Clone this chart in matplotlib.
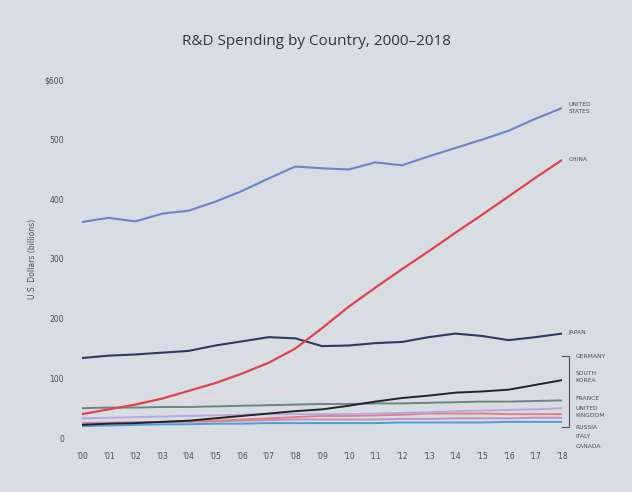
import numpy as np
import matplotlib
matplotlib.use('Agg')
import matplotlib.pyplot as plt

years = list(range(2000, 2019))
xlabels = ["'%02d" % (y % 100) for y in years]

# U.S. dollars, billions
usa = [362, 369, 363, 376, 381, 396, 414, 435, 455, 452, 450, 462, 457, 472, 486, 500, 515, 535, 553]
china = [40, 48, 56, 66, 79, 92, 108, 126, 150, 184, 220, 252, 283, 313, 344, 374, 405, 436, 466]
japan = [134, 138, 140, 143, 146, 155, 162, 169, 167, 154, 155, 159, 161, 169, 175, 171, 164, 169, 175]
germany = [58, 60, 62, 63, 65, 66, 70, 75, 80, 82, 84, 92, 96, 100, 105, 109, 115, 127, 135]
korea = [22, 24, 25, 27, 29, 33, 37, 41, 45, 48, 54, 61, 67, 71, 76, 78, 81, 89, 97]
france = [50, 51, 51, 52, 52, 53, 54, 55, 56, 57, 57, 58, 58, 59, 60, 61, 61, 62, 63]
uk = [33, 34, 35, 36, 37, 38, 39, 40, 40, 40, 40, 41, 42, 43, 45, 46, 47, 48, 50]
russia = [24, 25, 26, 27, 28, 29, 31, 33, 35, 37, 37, 38, 39, 41, 41, 41, 40, 40, 40]
italy = [25, 26, 26, 27, 27, 28, 29, 30, 31, 31, 31, 31, 32, 32, 33, 33, 33, 34, 34]
canada = [20, 21, 22, 23, 23, 24, 24, 25, 25, 25, 25, 25, 26, 26, 26, 26, 27, 27, 27]

bg = '#d7dde3'
fig = plt.figure(figsize=(6.32, 4.92), dpi=100, facecolor=bg)
ax = fig.add_axes([82/632, (492-438)/492, 480/632, 358/492], facecolor=bg)

x = np.arange(len(years))
series = [
    (germany, '#e4dcdc', 1.6),
    (canada, '#4a9fd6', 1.4),
    (italy, '#c48fbf', 1.4),
    (russia, '#e57f85', 1.4),
    (uk, '#b7a9e2', 1.4),
    (france, '#6d877f', 1.4),
    (korea, '#222326', 1.4),
    (japan, '#2d3a5e', 1.5),
    (china, '#e0434d', 1.6),
    (usa, '#6f84c8', 1.5),
]
for vals, col, lw in series:
    ax.plot(x, vals, color=col, lw=lw, solid_capstyle='round')

ax.set_xlim(0, 18)
ax.set_ylim(0, 600)
for s in ax.spines.values():
    s.set_visible(False)
ax.set_yticks([0, 100, 200, 300, 400, 500, 600])
ax.set_yticklabels(['0', '100', '200', '300', '400', '500', '$600'])
ax.set_xticks(x)
ax.set_xticklabels(xlabels)
ax.tick_params(length=0, labelsize=5.5, labelcolor='#4a4f57')
ax.tick_params(axis='y', pad=13)
ax.tick_params(axis='x', pad=10)
ax.set_ylabel('U.S. Dollars (billions)', fontsize=5.5, color='#4a4f57', labelpad=5)

fig.text(0.5, 0.915, 'R&D Spending by Country, 2000\u20132018', ha='center', va='center',
         fontsize=11, color='#33373e', family='Open Sans', fontweight='medium')

lab = dict(fontsize=4.3, color='#4a4f57', va='center', ha='left', clip_on=False,
           linespacing=1.6)
ax.text(18.25, 553, 'UNITED\nSTATES', **lab)
ax.text(18.25, 466, 'CHINA', **lab)
ax.text(18.25, 176, 'JAPAN', **lab)

# bracket for the smaller countries
ax.plot([18.0, 18.25, 18.25, 18.0], [138, 138, 18, 18], color='#4a4f57', lw=0.8, clip_on=False)
ax.text(18.5, 136, 'GERMANY', **lab)
ax.text(18.5, 102, 'SOUTH\nKOREA', **lab)
ax.text(18.5, 66, 'FRANCE', **lab)
ax.text(18.5, 44, 'UNITED\nKINGDOM', **lab)
ax.text(18.5, 18, 'RUSSIA', **lab)
ax.text(18.5, 3, 'ITALY', **lab)
ax.text(18.5, -15, 'CANADA', **lab)

fig.savefig('out.png', dpi=100, facecolor=bg)
